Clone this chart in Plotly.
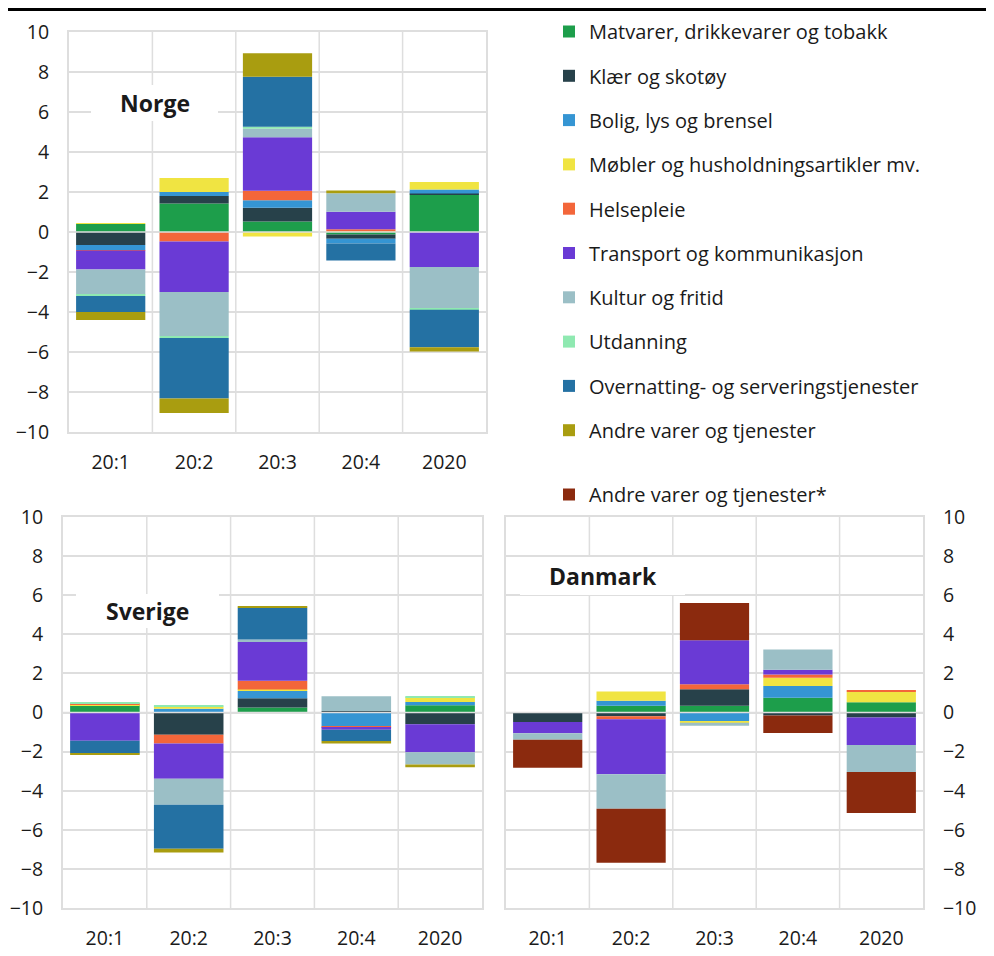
import plotly.graph_objects as go

# ---------------- data ----------------

periods = ["20:1", "20:2", "20:3", "20:4", "2020"]

categories = [
    "Matvarer, drikkevarer og tobakk",
    "Klær og skotøy",
    "Bolig, lys og brensel",
    "Møbler og husholdningsartikler mv.",
    "Helsepleie",
    "Transport og kommunikasjon",
    "Kultur og fritid",
    "Utdanning",
    "Overnatting- og serveringstjenester",
    "Andre varer og tjenester",
]
danmark_extra = "Andre varer og tjenester*"

# Norge
norge_mat = [0.40, 1.43, 0.53, -0.12, 1.87]
norge_klaer = [-0.65, 0.37, 0.68, -0.22, 0.05]
norge_bolig = [-0.25, 0.20, 0.38, -0.23, 0.20]
norge_mobler = [0.03, 0.70, -0.22, 0.02, 0.38]
norge_helse = [-0.03, -0.48, 0.47, 0.12, 0.0]
norge_transport = [-0.95, -2.52, 2.68, 0.87, -1.75]
norge_kultur = [-1.25, -2.20, 0.42, 0.93, -2.07]
norge_utdanning = [-0.07, -0.10, 0.10, 0.0, -0.07]
norge_overnatting = [-0.80, -3.03, 2.50, -0.85, -1.87]
norge_andre = [-0.40, -0.72, 1.18, 0.13, -0.22]

# Sverige
sverige_mat = [0.38, 0.02, 0.25, 0.0, 0.37]
sverige_klaer = [0.0, -1.14, 0.48, 0.08, -0.60]
sverige_bolig = [0.0, 0.17, 0.37, -0.72, 0.17]
sverige_mobler = [0.05, 0.12, 0.08, 0.0, 0.24]
sverige_helse = [0.05, -0.44, 0.44, -0.06, 0.0]
sverige_transport = [-1.45, -1.81, 1.98, -0.10, -1.43]
sverige_kultur = [0.0, -1.33, 0.14, 0.75, -0.63]
sverige_utdanning = [0.05, 0.05, 0.0, 0.0, 0.02]
sverige_overnatting = [-0.63, -2.25, 1.62, -0.58, 0.0]
sverige_andre = [-0.07, -0.19, 0.05, -0.12, -0.14]

# Danmark
danmark_mat = [0.0, 0.34, 0.34, 0.75, 0.53]
danmark_klaer = [-0.48, -0.19, 0.85, -0.15, -0.26]
danmark_bolig = [0.0, 0.26, -0.44, 0.60, 0.0]
danmark_mobler = [0.0, 0.48, -0.09, 0.43, 0.53]
danmark_helse = [0.0, -0.15, 0.26, 0.17, 0.05]
danmark_transport = [-0.58, -2.82, 2.24, 0.24, -1.40]
danmark_kultur = [-0.34, -1.76, -0.15, 1.03, -1.38]
danmark_andre_stjerne = [-1.42, -2.77, 1.91, -0.90, -2.10]

colors = [
    "#1d9e4b", "#27414a", "#3595d3", "#f0e442", "#f3663a",
    "#6a3ad5", "#9bbfc6", "#8fe9b1", "#2471a3", "#a99d10",
]
color_extra = "#8b2a0e"

norge = [norge_mat, norge_klaer, norge_bolig, norge_mobler, norge_helse,
         norge_transport, norge_kultur, norge_utdanning, norge_overnatting,
         norge_andre]
sverige = [sverige_mat, sverige_klaer, sverige_bolig, sverige_mobler,
           sverige_helse, sverige_transport, sverige_kultur,
           sverige_utdanning, sverige_overnatting, sverige_andre]
danmark = [danmark_mat, danmark_klaer, danmark_bolig, danmark_mobler,
           danmark_helse, danmark_transport, danmark_kultur]

FONT = "Open Sans"
TEXT = "#1a1a1a"
GRID = "#dedede"

fig = go.Figure()

# ---------------- traces ----------------

for i, name in enumerate(categories):
    fig.add_trace(go.Bar(
        x=periods, y=norge[i], name=name, marker_color=colors[i],
        xaxis="x", yaxis="y", legendgroup=name, showlegend=True,
    ))

for i, name in enumerate(categories):
    fig.add_trace(go.Bar(
        x=periods, y=sverige[i], name=name, marker_color=colors[i],
        xaxis="x2", yaxis="y2", legendgroup=name, showlegend=False,
    ))

for i, series in enumerate(danmark):
    fig.add_trace(go.Bar(
        x=periods, y=series, name=categories[i], marker_color=colors[i],
        xaxis="x3", yaxis="y3", legendgroup=categories[i], showlegend=False,
    ))

fig.add_trace(go.Bar(
    x=periods, y=danmark_andre_stjerne, name=danmark_extra,
    marker_color=color_extra, xaxis="x3", yaxis="y3",
    legend="legend2", showlegend=True,
))

fig.update_traces(marker_line_width=0)

# ---------------- geometry ----------------
# the page body adds an 8px margin, so the figure is shifted by that
OFF = 8
W, H = 994 - OFF, 956 - OFF


def fx(a):
    return (a - OFF) / W


def fy(a):
    return 1 - (a - OFF) / H


xcommon = dict(
    showgrid=False,
    showline=True, linecolor=GRID, linewidth=2, mirror=True,
    tickfont=dict(family=FONT, size=19.5, color=TEXT),
    ticks="", ticklabelstandoff=12, fixedrange=True, automargin=False,
)
ycommon = dict(
    range=[-10, 10], dtick=2, showgrid=True, gridcolor=GRID, gridwidth=1.5,
    zeroline=False,
    showline=True, linecolor=GRID, linewidth=2, mirror=True,
    tickfont=dict(family=FONT, size=19.5, color=TEXT),
    ticks="", ticklabelstandoff=14, fixedrange=True, automargin=False,
)

fig.update_layout(
    xaxis=dict(domain=[fx(69), fx(486)], anchor="y", **xcommon),
    yaxis=dict(domain=[fy(432), fy(32)], anchor="x", **ycommon),
    xaxis2=dict(domain=[fx(63), fx(482)], anchor="y2", **xcommon),
    yaxis2=dict(domain=[fy(908), fy(517)], anchor="x2", **ycommon),
    xaxis3=dict(domain=[fx(506), fx(923)], anchor="y3", **xcommon),
    yaxis3=dict(domain=[fy(908), fy(517)], anchor="x3", side="right",
                **ycommon),
)

# vertical gridlines between categories, zero line over the bars
for xa, ya in [("x", "y"), ("x2", "y2"), ("x3", "y3")]:
    for k in range(1, len(periods)):
        fig.add_shape(
            type="line", xref=xa, yref=f"{ya} domain",
            x0=k - 0.5, x1=k - 0.5, y0=0, y1=1,
            line=dict(color=GRID, width=1.5), layer="below",
        )
    fig.add_shape(
        type="line", xref=f"{xa} domain", yref=ya,
        x0=0, x1=1, y0=0, y1=0,
        line=dict(color=GRID, width=1.5), layer="above",
    )

# ---------------- country labels ----------------

labels = [
    ("Norge", 91, 218, 85, 121),
    ("Sverige", 76, 219, 594, 628),
    ("Danmark", 520, 685, 557, 595),
]
for text, x0, x1, y0, y1 in labels:
    fig.add_shape(
        type="rect", xref="paper", yref="paper",
        x0=fx(x0), x1=fx(x1), y0=fy(y1), y1=fy(y0),
        fillcolor="white", line=dict(width=0), layer="above",
    )
    fig.add_annotation(
        x=fx((x0 + x1) / 2), y=fy((y0 + y1) / 2),
        xref="paper", yref="paper", text=f"<b>{text}</b>",
        showarrow=False, xanchor="center", yanchor="middle",
        font=dict(family=FONT, size=23, color=TEXT),
    )

# top rule (as close to the top edge as the figure allows)
fig.add_shape(
    type="line", xref="paper", yref="paper",
    x0=0, x1=1, y0=1 - 1.5 / H, y1=1 - 1.5 / H,
    line=dict(color="black", width=3),
)

# ---------------- layout ----------------

fig.update_layout(
    width=W, height=H,
    margin=dict(l=0, r=0, t=0, b=0, autoexpand=False),
    paper_bgcolor="white", plot_bgcolor="white",
    barmode="relative", bargap=0.17,
    font=dict(family=FONT, color=TEXT),
    legend=dict(
        x=fx(549), y=fy(12), xanchor="left", yanchor="top",
        traceorder="grouped", tracegroupgap=15.3,
        font=dict(family=FONT, size=20, color=TEXT),
        bgcolor="rgba(0,0,0,0)",
    ),
    legend2=dict(
        x=fx(549), y=fy(475), xanchor="left", yanchor="top",
        font=dict(family=FONT, size=20, color=TEXT),
        bgcolor="rgba(0,0,0,0)",
    ),
)

fig.write_html("out.html")
